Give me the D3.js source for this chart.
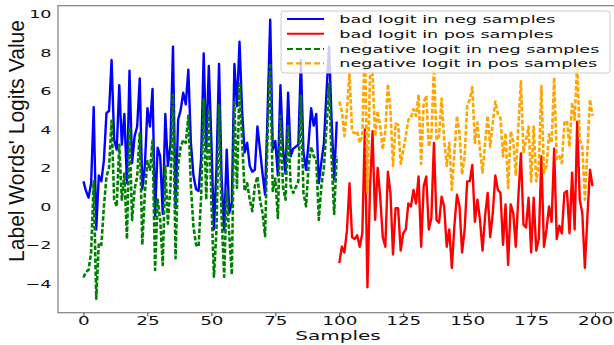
<!DOCTYPE html>
<html><head><meta charset="utf-8">
<script src="https://cdn.jsdelivr.net/npm/d3@7"></script>
<style>body{margin:0;background:#fff}svg{display:block}</style>
</head><body>
<svg id="c" width="614" height="345"></svg>
<script>
// ---- data ----
const xTicks = [0,25,50,75,100,125,150,175,200];
const yTicks = [-4,-2,0,2,4,6,8,10];
const seriesNames = ["bad logit in neg samples","bad logit in pos samples","negative logit in neg samples","negative logit in pos samples"];
const negStart = 0, posStart = 100;
const badNeg = [1.3,0.8,0.45,1.2,5.15,-1.2,1.6,1.3,2.4,4.85,4.95,7.6,3.45,2.95,6.3,3.2,4.8,1.2,7.05,2.25,
3.65,4.15,6.65,0.9,2.1,5.1,4.15,6.1,-0.5,3.05,2.6,-0.4,4.8,2.1,3.2,8.3,-0.1,4.5,5.0,5.9,
5.3,7.1,3.3,1.6,0.9,0.8,2.5,7.95,2.95,7.3,3.4,-1.2,2.0,7.4,1.5,-1.25,2.95,-0.35,0.2,7.4,
5.2,8.55,5.0,2.8,3.3,2.1,1.8,1.9,4.15,2.95,1.7,0.6,5.0,9.7,2.95,3.4,1.6,6.3,3.0,1.7,
5.9,2.6,3.0,3.1,3.2,7.6,2.8,1.9,3.3,5.1,4.2,4.8,1.2,2.3,3.3,5.9,8.3,4.5,1.4,4.4];
const negNeg = [-3.7,-3.4,-3.3,-2.4,1.3,-4.8,-1.9,-2.0,0.0,1.55,2.0,4.45,0.35,0.0,3.2,0.35,1.7,-1.7,4.1,-0.7,
0.9,1.55,3.8,-2.0,0.7,2.35,1.9,3.4,-3.3,0.35,-0.7,-3.05,2.1,-0.9,1.05,5.8,-2.7,2.1,3.1,3.45,
3.3,4.7,1.0,-1.05,-2.0,-2.1,0.5,5.55,0.35,5.05,0.35,-3.65,-1.25,5.25,-0.5,-3.65,0.85,-1.5,-3.55,5.4,
0.95,6.35,3.45,0.8,1.2,0.35,-0.25,1.05,1.55,0.35,-0.35,-1.55,3.8,7.45,0.8,1.45,-0.6,4.7,1.0,0.35,
4.25,1.05,0.7,1.0,1.3,5.75,0.7,0.0,2.1,3.1,2.6,2.45,-0.7,1.05,2.0,4.15,6.35,2.5,-0.4,2.6];
const badPos = [-2.95,-2.1,-2.4,-1.25,1.2,-1.6,-1.7,-1.5,-2.1,-1.4,4.0,-4.2,0.9,3.9,-0.7,2.0,0.5,-1.6,-2.1,1.8,
0.7,-2.5,-0.1,-0.1,-2.3,-1.4,-1.2,0.15,0.0,0.85,0.15,1.55,-2.1,1.05,1.55,-1.2,-0.6,3.3,-0.7,-0.85,
0.5,0.0,-2.1,-1.2,-3.2,-1.0,0.6,0.0,-2.4,-1.2,1.3,1.3,2.15,-0.8,0.35,-0.7,-2.3,-0.5,0.7,-1.6,
-0.35,1.6,0.85,0.7,-2.0,0.1,-3.05,0.1,-0.35,-2.1,0.5,2.75,-0.95,-1.1,0.45,-2.4,0.45,-2.3,-1.7,2.6,
-2.1,-1.2,0.0,-0.8,3.0,-1.7,-1.0,-1.4,0.7,0.8,-1.4,1.75,-1.2,4.4,0.35,-0.35,-3.2,-0.5,1.9,1.05];
const negPos = [5.45,4.95,3.65,5.0,6.9,3.9,3.8,3.9,3.3,3.65,8.7,0.7,6.75,6.95,3.65,4.95,4.15,2.95,3.9,6.35,
5.0,2.1,4.3,4.25,2.2,2.9,3.65,4.5,4.6,5.05,4.7,5.8,2.2,5.4,5.75,3.1,3.65,7.3,3.45,3.65,
5.6,3.45,2.1,3.3,0.85,2.8,4.7,3.8,1.65,2.6,5.2,5.55,6.2,3.3,4.35,2.95,1.75,3.3,4.7,3.1,
4.35,5.45,4.8,4.6,2.6,3.8,0.95,3.9,3.4,1.65,4.15,6.5,2.8,3.45,4.15,1.3,4.15,1.3,2.1,6.25,
1.75,2.1,3.75,3.3,6.7,2.45,2.6,2.25,4.35,4.45,3.1,5.4,4.5,7.45,3.45,3.1,0.35,2.95,5.55,4.7];

// ---- layout ----
const SX = 1.6; // horizontal stretch of glyphs seen in the reference
const svg = d3.select("#c");
const x = d3.scaleLinear().domain([-9.95, 208.95]).range([58, 618]);
const y = d3.scaleLinear().domain([-5.525, 10.425]).range([312.7, 5.7]);

const series = [
  {name: seriesNames[0], data: badNeg, start: negStart, color: "#0000ff", dash: null},
  {name: seriesNames[1], data: badPos, start: posStart, color: "#ff0000", dash: null},
  {name: seriesNames[2], data: negNeg, start: negStart, color: "#008000", dash: "4.5,2"},
  {name: seriesNames[3], data: negPos, start: posStart, color: "#ffa500", dash: "4.5,2"}
];

svg.append("defs").append("clipPath").attr("id","clip")
  .append("rect").attr("x",58).attr("y",5.7).attr("width",560).attr("height",307);

const plot = svg.append("g").attr("clip-path","url(#clip)");
series.forEach(s => {
  const line = d3.line().x((d,i) => x(s.start + i)).y(d => y(d));
  plot.append("path").datum(s.data).attr("d", line)
    .attr("fill","none").attr("stroke", s.color)
    .attr("stroke-width", s.dash ? 2.6 : 2.4)
    .attr("stroke-dasharray", s.dash)
    .attr("stroke-linejoin","round");
});

// frame
svg.append("rect").attr("x",58).attr("y",5.7).attr("width",560).attr("height",307)
  .attr("fill","none").attr("stroke","#808080").attr("stroke-width",1.2);

// x axis
const gx = svg.append("g").attr("transform","translate(0,312.7)")
  .call(d3.axisBottom(x).tickValues(xTicks).tickSize(3.5).tickFormat(d3.format("d")));
gx.select(".domain").remove();
gx.selectAll(".tick line").attr("stroke","#444");
gx.selectAll(".tick text").attr("y",12.5).attr("dy",0)
  .attr("font-family","DejaVu Sans").attr("font-size",11.5).attr("fill","#111")
  .attr("transform",`scale(${SX},1)`);

// y axis
const gy = svg.append("g").attr("transform","translate(58,0)")
  .call(d3.axisLeft(y).tickValues(yTicks).tickSize(0)
    .tickFormat(d => d < 0 ? "\u2212" + Math.abs(d) : String(d)));
gy.select(".domain").remove();
gy.selectAll(".tick text").attr("x", -6.5/SX).attr("dy","0.36em")
  .attr("font-family","DejaVu Sans").attr("font-size",11).attr("fill","#111")
  .attr("transform",`scale(${SX},1)`);

// axis titles
svg.append("text").attr("transform",`translate(338,339.5) scale(${SX},1)`)
  .attr("text-anchor","middle").attr("font-family","DejaVu Sans").attr("font-size",12.5)
  .attr("fill","#111").text("Samples");
svg.append("text").attr("transform","translate(24,141) rotate(-90) scale(1,1.25)")
  .attr("text-anchor","middle").attr("font-family","Liberation Sans").attr("font-size",18)
  .attr("textLength",242).attr("lengthAdjust","spacingAndGlyphs")
  .attr("fill","#111").text("Label Words' Logits Value");

// legend
const lg = svg.append("g");
lg.append("rect").attr("x",281).attr("y",11).attr("width",329).attr("height",62).attr("rx",3)
  .attr("fill","#fff").attr("fill-opacity",0.8).attr("stroke","#cccccc").attr("stroke-width",1);
const rowY = [19, 33.7, 49, 63.3];
series.forEach((s,i) => {
  lg.append("line").attr("x1",287).attr("x2",324).attr("y1",rowY[i]).attr("y2",rowY[i])
    .attr("stroke",s.color).attr("stroke-width", s.dash ? 2.2 : 1.9)
    .attr("stroke-dasharray", s.dash ? "6,3" : null);
  lg.append("text").attr("transform",`translate(339.3,${rowY[i]+4}) scale(${SX},1)`)
    .attr("font-family","DejaVu Sans").attr("font-size",11).attr("fill","#111").text(s.name);
});
</script>
</body></html>
